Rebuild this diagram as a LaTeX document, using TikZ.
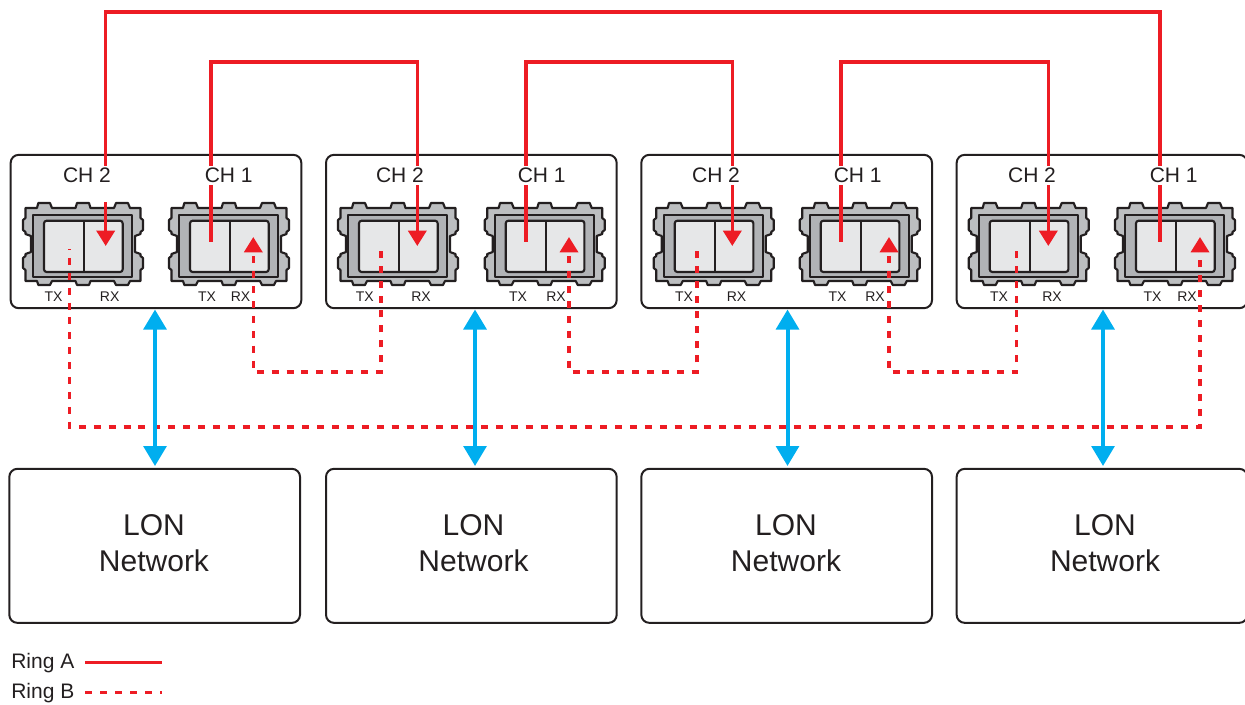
\documentclass[tikz,border=0pt]{standalone}
\usepackage{fontspec}
\setmainfont{Liberation Sans}
\usetikzlibrary{arrows.meta}
\usetikzlibrary{positioning}
\definecolor{ringRed}{HTML}{ED1C24}
\definecolor{linkBlue}{HTML}{00AEEF}
\definecolor{inkDark}{HTML}{231F20}
\definecolor{sfpGrey}{HTML}{BCBEC0}
\definecolor{sfpMid}{HTML}{B1B3B6}
\definecolor{sfpLight}{HTML}{E6E7E8}
\tikzset{card/.style={rectangle,draw=inkDark,line width=1.5pt,rounded corners=6pt,inner sep=0pt,minimum width=218pt,minimum height=115pt},
		lonBox/.style={card,minimum height=115.5pt},
		lonText/.style={align=center,inner sep=0pt,text=inkDark,font=\fontsize{22.5}{27}\selectfont},
		chLabel/.style={fill=white,inner sep=0pt,minimum height=14pt,text=inkDark,font=\fontsize{15.75}{18}\selectfont},
		portLabel/.style={inner sep=0pt,text=inkDark,font=\fontsize{10.5}{12}\selectfont},
		keyLabel/.style={anchor=west,inner sep=0pt,text=inkDark,font=\fontsize{15.75}{18}\selectfont},
		ringA/.style={draw=ringRed,line width=2.6pt},
		ringB/.style={ringA,dash pattern=on 5.25pt off 5.92pt},
		ringTip/.tip={Triangle[width=13.5pt,length=11.5pt]},
		lonLink/.style={draw=linkBlue,line width=3pt,{Triangle[width=17pt,length=15pt]}-{Triangle[width=17pt,length=15pt]}},
		sfpLine/.style={draw=inkDark,line width=1.6pt,line join=round},
		sfp/.pic={
			\draw[sfpLine,fill=sfpGrey] (-57.5,-36) -- (-46,-36) -- (-44.7,-41) -- (-33,-41) -- (-31,-36) -- (-7.5,-36) -- (-6,-41) -- (6,-41) -- (7.5,-36) -- (31,-36) -- (33,-41) -- (45,-41) -- (47,-36) -- (57.5,-36)
				-- (57.5,-26) -- (60,-24) -- (60,-14) -- (57.5,-12) -- (57.5,-10) -- (52,-8) -- (52,8) -- (57.5,10) -- (57.5,12) -- (60,14) -- (60,24) -- (57.5,26) -- (57.5,37)
				-- (47,37) -- (45,41) -- (33,41) -- (31,37) -- (7.5,37) -- (6,41) -- (-6,41) -- (-7.5,37) -- (-31,37) -- (-33,41) -- (-44.7,41) -- (-46,37) -- (-57.5,37)
				-- (-57.5,26) -- (-60,24) -- (-60,14) -- (-57.5,12) -- (-57.5,10) -- (-52,8) -- (-52,-8) -- (-57.5,-10) -- (-57.5,-12) -- (-60,-14) -- (-60,-24) -- (-57.5,-26) -- cycle;
			\draw[sfpLine,fill=sfpMid] (-49.7,-28.7) rectangle (49.3,33);
			\draw[sfpLine,fill=sfpLight,rounded corners=2pt] (-39,-23.3) rectangle (39.7,28);
			\draw[sfpLine] (1,-23.3) -- (1,28);
		}}
\begin{document}
\begin{tikzpicture}[x=0.75pt,y=-0.75pt]
	\useasboundingbox (0,0) rectangle (1245,704);
	%cards
	\node [card] (card1) at (156,231.5) {};
	\node [card] (card2) [right=17pt of card1] {};
	\node [card] (card3) [right=17pt of card2] {};
	\node [card] (card4) [right=17pt of card3] {};
	%LON boxes
	\node [lonBox, xshift=-1pt] (lon1) [below=119pt of card1] {};
	\node [lonBox] (lon2) [below=119pt of card2] {};
	\node [lonBox] (lon3) [below=119pt of card3] {};
	\node [lonBox] (lon4) [below=119pt of card4] {};
	\foreach \n/\cx in {1/154,2/473.5,3/786,4/1105}
		\node [lonText] (lonName\n) at (\cx,543) {LON\\Network};
	%modules
	\foreach \n/\cx in {1/83,2/229,3/398,4/544.7,5/713.7,6/859.7,7/1028.7,8/1175}
		\pic (m\n) at (\cx,244) {sfp};
	%ring A ends
	\coordinate (aOut2) at (211,241.5);
	\coordinate (aOut4) at (526,241.5);
	\coordinate (aOut6) at (841,241.5);
	\coordinate (aOut8) at (1160,241.5);
	\coordinate (aIn1) at (105.7,246);
	\coordinate (aIn3) at (417.3,246);
	\coordinate (aIn5) at (732.3,246);
	\coordinate (aIn7) at (1048.3,246);
	\coordinate (aTop1) at (105.7,12);
	\coordinate (aTop3) at (417.3,62);
	\coordinate (aTop5) at (732.3,62);
	\coordinate (aTop7) at (1048.3,62);
	\coordinate (aCut1) at (105.7,185);
	\coordinate (aCut2) at (105.7,202);
	%ring B ends
	\coordinate (bIn2) at (253.3,237);
	\coordinate (bIn4) at (569,237);
	\coordinate (bIn6) at (889,237);
	\coordinate (bIn8) at (1200,237);
	\coordinate (bOut1) at (69.3,249);
	\coordinate (bOut3) at (381,250);
	\coordinate (bOut5) at (697,250);
	\coordinate (bOut7) at (1016.7,250);
	\coordinate (bLow3) at (381,372);
	\coordinate (bLow5) at (697,372);
	\coordinate (bLow7) at (1016.7,372);
	\coordinate (bBot8) at (1200,427);
	%ring A
	\draw[ringA] (aOut8) |- (aTop1) -- (aCut1);
	\draw[ringA,-ringTip] (aCut2) -- (aIn1);
	\draw[ringA,-ringTip] (aOut2) |- (aTop3) -- (aIn3);
	\draw[ringA,-ringTip] (aOut4) |- (aTop5) -- (aIn5);
	\draw[ringA,-ringTip] (aOut6) |- (aTop7) -- (aIn7);
	%ring B
	\draw[ringB,dash phase=7.5pt,ringTip-] (bIn2) |- (bLow3) -- (bOut3);
	\draw[ringB,dash phase=7.5pt,ringTip-] (bIn4) |- (bLow5) -- (bOut5);
	\draw[ringB,dash phase=7.5pt,ringTip-] (bIn6) |- (bLow7) -- (bOut7);
	\draw[ringB,dash phase=4.5pt,-ringTip] (bOut1) |- (bBot8) -- (bIn8);
	%labels
	\foreach \n/\cx/\chName in {1/87/CH 2,2/228.7/CH 1,3/400/CH 2,4/541.7/CH 1,5/716/CH 2,6/857.7/CH 1,7/1032/CH 2,8/1173.7/CH 1}
		\node [chLabel] (ch\n) at (\cx,175.5) {\chName};
	\foreach \n/\cx in {1/53.5,2/207,3/364.8,4/518,5/684,6/837.5,7/999,8/1152.5}
		\node [portLabel] (tx\n) at (\cx,296.7) {TX};
	\foreach \n/\cx in {1/109.7,2/240.5,3/421,4/556,5/736.5,6/875,7/1052,8/1187}
		\node [portLabel] (rx\n) at (\cx,296.7) {RX};
	%LON links
	\coordinate (linkTop1) at (155,309.5);
	\coordinate (linkTop2) at (475,309.5);
	\coordinate (linkTop3) at (787.5,309.5);
	\coordinate (linkTop4) at (1103,309.5);
	\coordinate (linkEnd1) at (155,466);
	\coordinate (linkEnd2) at (475,466);
	\coordinate (linkEnd3) at (787.5,466);
	\coordinate (linkEnd4) at (1103,466);
	\foreach \n in {1,2,3,4}
		\draw[lonLink] (linkTop\n) -- (linkEnd\n);
	%key
	\node [keyLabel] (keyA) at (11,663) {Ring A};
	\node [keyLabel] (keyB) at (11,693) {Ring B};
	\coordinate (keyAend) at (161.5,662.3);
	\coordinate (keyBend) at (161.5,692.7);
	\draw[ringA] (85,662.3) coordinate (keyAstart) -- (keyAend);
	\draw[ringB,dash pattern=on 5.25pt off 6pt] (85,692.7) coordinate (keyBstart) -- (keyBend);
\end{tikzpicture}
\end{document}
